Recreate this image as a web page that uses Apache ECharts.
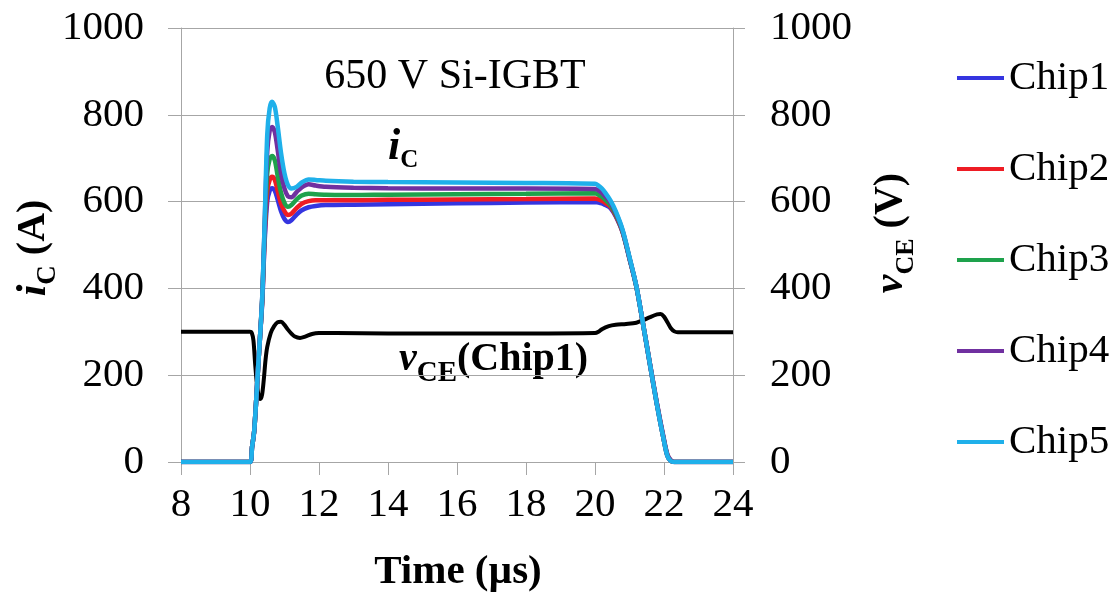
<!DOCTYPE html>
<html>
<head>
<meta charset="utf-8">
<script src="https://cdn.jsdelivr.net/npm/echarts@6/dist/echarts.min.js"></script>
<style>html,body{margin:0;padding:0;background:#fff}#c{width:1119px;height:597px}</style>
</head>
<body>
<div id="c"></div>
<script>
const xTicks = [8, 10, 12, 14, 16, 18, 20, 22, 24];
const yTicks = [0, 200, 400, 600, 800, 1000];
const chipNames = ['Chip1', 'Chip2', 'Chip3', 'Chip4', 'Chip5'];
const chipColors = ['#3535e0', '#ee1c24', '#1ea24c', '#7030a0', '#1fb0ea'];

const timeUs = [8, 10.0, 10.06, 10.12, 10.18, 10.24, 10.3, 10.36, 10.42, 10.5, 10.57, 10.64, 10.72, 10.8, 10.9, 11.0, 11.1, 11.2, 11.35, 11.5, 11.7, 11.9, 12.2, 13, 14, 16, 18, 20.0, 20.1, 20.2, 20.3, 20.45, 20.6, 20.8, 21.0, 21.2, 21.4, 21.6, 21.8, 22.0, 22.1, 22.2, 22.3, 24];
const chip1 = [0, 0, 35, 70, 143, 225, 300, 375, 500, 600, 625, 631, 625, 605, 578, 560, 553, 557, 570, 580, 587, 590, 592, 593, 594, 596, 598, 599, 598, 596, 592, 585, 566, 529, 468, 404, 315, 223, 133, 52, 17, 4, 0, 0];
const chip2 = [0, 0, 35, 70, 143, 225, 300, 380, 510, 625, 650, 657, 650, 625, 595, 578, 569, 572, 585, 595, 601, 603, 603, 603, 604, 605, 606, 607, 605, 602, 597, 588, 568, 530, 469, 404, 315, 223, 132, 50, 16, 3, 0, 0];
const chip3 = [0, 0, 35, 70, 143, 225, 300, 385, 525, 665, 698, 705, 695, 660, 620, 597, 588, 592, 605, 614, 618, 617, 616, 615, 616, 617, 618, 619, 616, 611, 604, 592, 571, 531, 469, 403, 314, 221, 130, 48, 14, 2, 0, 0];
const chip4 = [0, 0, 35, 70, 143, 225, 300, 390, 535, 715, 763, 772, 760, 720, 665, 630, 612, 610, 622, 633, 640, 637, 634, 632, 631, 630, 630, 629, 626, 620, 612, 598, 575, 533, 470, 404, 314, 221, 130, 48, 14, 2, 0, 0];
const chip5 = [0, 0, 35, 70, 143, 225, 300, 390, 540, 755, 815, 830, 818, 775, 712, 665, 638, 630, 634, 644, 651, 650, 648, 646, 645, 644, 643, 641, 637, 630, 620, 602, 578, 535, 472, 405, 315, 222, 130, 48, 14, 2, 0, 0];

const vceTime = [8, 10.0, 10.05, 10.1, 10.15, 10.2, 10.25, 10.3, 10.35, 10.4, 10.45, 10.5, 10.6, 10.7, 10.8, 10.9, 11.0, 11.1, 11.2, 11.3, 11.45, 11.6, 11.8, 12.0, 12.5, 14, 16, 18, 20.0, 20.1, 20.2, 20.4, 20.6, 20.9, 21.2, 21.4, 21.6, 21.8, 21.9, 22.0, 22.1, 22.2, 22.3, 22.4, 24];
const vceChip1 = [300, 300, 298, 280, 225, 180, 152, 145, 155, 190, 235, 265, 297, 313, 322, 323, 316, 305, 296, 289, 286, 289, 295, 297, 297, 296, 296, 296, 297, 300, 306, 313, 316, 318, 321, 327, 334, 340, 341, 335, 322, 308, 301, 299, 299];

const chipSeries = [chip1, chip2, chip3, chip4, chip5];
const serif = '"Liberation Serif", "Times New Roman", "DejaVu Serif", serif';
const grey = '#a6a6a6';

function ts(size, weight, style) {
  return { fontFamily: serif, fontSize: size, fontWeight: weight || 'normal', fontStyle: style || 'normal', color: '#000', fill: '#000' };
}

const series = [{
  name: 'vCE',
  type: 'line',
  yAxisIndex: 1,
  data: vceTime.map((t, i) => [t, vceChip1[i]]),
  showSymbol: false,
  smooth: 0.3,
  lineStyle: { color: '#000', width: 4 },
  itemStyle: { color: '#000' },
  z: 2
}];
chipSeries.forEach((vals, k) => {
  series.push({
    name: chipNames[k],
    type: 'line',
    data: timeUs.map((t, i) => [t, vals[i]]),
    showSymbol: false,
    smooth: 0.3,
    lineStyle: { color: chipColors[k], width: 4.5 },
    itemStyle: { color: chipColors[k] },
    z: 3 + k
  });
});

const chart = echarts.init(document.getElementById('c'), null, { renderer: 'canvas' });
chart.setOption({
  animation: false,
  backgroundColor: '#fff',
  grid: { left: 181, right: 386, top: 28, bottom: 135 },
  legend: {
    data: chipNames,
    orient: 'vertical',
    left: 952,
    top: 52,
    icon: 'rect',
    itemWidth: 47,
    itemHeight: 4,
    itemGap: 49,
    textStyle: Object.assign(ts(41), { lineHeight: 42 })
  },
  xAxis: {
    type: 'value',
    min: xTicks[0],
    max: xTicks[xTicks.length - 1],
    interval: 2,
    axisLine: { show: true, lineStyle: { color: grey, width: 1 } },
    axisTick: { show: true, inside: false, length: 13, lineStyle: { color: grey } },
    splitLine: { show: false },
    axisLabel: Object.assign(ts(41), { margin: 23, formatter: v => String(v) })
  },
  yAxis: [{
    type: 'value',
    min: yTicks[0],
    max: yTicks[yTicks.length - 1],
    interval: 200,
    axisLine: { show: true, lineStyle: { color: grey, width: 1 } },
    axisTick: { show: true, inside: false, length: 13, lineStyle: { color: grey } },
    splitLine: { show: true, lineStyle: { color: grey, width: 1 } },
    axisLabel: Object.assign(ts(41), { margin: 37, formatter: v => String(v) })
  }, {
    type: 'value',
    position: 'right',
    min: yTicks[0],
    max: yTicks[yTicks.length - 1],
    interval: 200,
    axisLine: { show: true, lineStyle: { color: grey, width: 1 } },
    axisTick: { show: true, inside: false, length: 12, lineStyle: { color: grey } },
    splitLine: { show: false },
    axisLabel: Object.assign(ts(41), { margin: 37, formatter: v => String(v) })
  }],
  graphic: [
    {
      type: 'text', x: 458, y: 572,
      style: Object.assign(ts(41, 'bold'), { text: 'Time (µs)', align: 'center', verticalAlign: 'middle' })
    },
    {
      type: 'text', x: 455, y: 77,
      style: Object.assign(ts(42), { text: '650 V Si-IGBT', align: 'center', verticalAlign: 'middle' })
    },
    {
      type: 'text', x: 388, y: 148,
      style: {
        text: '{i|i}{s|C}',
        align: 'left', verticalAlign: 'middle',
        rich: {
          i: Object.assign(ts(44, 'bold', 'italic'), { lineHeight: 50, verticalAlign: 'middle' }),
          s: Object.assign(ts(25, 'bold'), { lineHeight: 25, verticalAlign: 'bottom' })
        }
      }
    },
    {
      type: 'text', x: 399, y: 360,
      style: {
        text: '{i|v}{s|CE}{b|(Chip1)}',
        align: 'left', verticalAlign: 'middle',
        rich: {
          i: Object.assign(ts(40, 'bold', 'italic'), { lineHeight: 56, verticalAlign: 'middle' }),
          s: Object.assign(ts(29, 'bold'), { lineHeight: 29, verticalAlign: 'bottom' }),
          b: Object.assign(ts(40, 'bold'), { lineHeight: 56, verticalAlign: 'middle' })
        }
      }
    },
    {
      type: 'text', x: 34, y: 248, rotation: Math.PI / 2,
      style: {
        text: '{i|i}{s|C}{b| (A)}',
        align: 'center', verticalAlign: 'middle',
        rich: {
          i: Object.assign(ts(42, 'bold', 'italic'), { lineHeight: 56, verticalAlign: 'middle' }),
          s: Object.assign(ts(27, 'bold'), { lineHeight: 27, verticalAlign: 'bottom' }),
          b: Object.assign(ts(40, 'bold'), { lineHeight: 56, verticalAlign: 'middle' })
        }
      }
    },
    {
      type: 'text', x: 891, y: 233, rotation: Math.PI / 2,
      style: {
        text: '{i|v}{s|CE}{b| (V)}',
        align: 'center', verticalAlign: 'middle',
        rich: {
          i: Object.assign(ts(42, 'bold', 'italic'), { lineHeight: 56, verticalAlign: 'middle' }),
          s: Object.assign(ts(26, 'bold'), { lineHeight: 26, verticalAlign: 'bottom' }),
          b: Object.assign(ts(40, 'bold'), { lineHeight: 56, verticalAlign: 'middle' })
        }
      }
    }
  ],
  series: series
});
</script>
</body>
</html>
